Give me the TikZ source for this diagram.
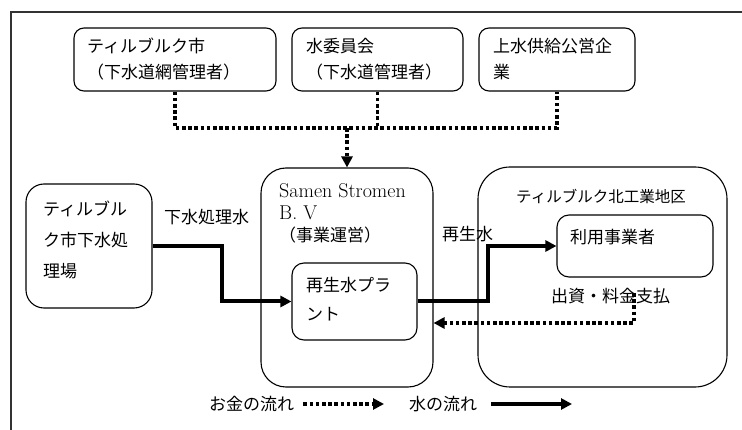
\documentclass[tikz,border=0pt]{standalone}
\usepackage{fontspec}
\newfontfamily\jp{Noto Sans CJK JP}
\usetikzlibrary{arrows.meta}

\begin{document}
\begin{tikzpicture}[x=1pt,y=-1pt,
	box/.style={draw,rounded corners=#1,line width=1.1pt,inner sep=0pt},
	box/.default=10pt,
	txt/.style={inner sep=0pt,anchor=west,align=left,font=\jp\fontsize{17}{26}\selectfont},
	money/.style={line width=3.2pt,dash pattern=on 3.6pt off 2.6pt},
	water/.style={line width=4pt,-{Triangle[length=11pt,width=11pt]}},
	tip/.style={-{Triangle[length=11pt,width=11pt]}}]
	\useasboundingbox (0,0) rectangle (742,430);
	\draw[line width=1.4pt,black!80] (742,12) -- (11,12) -- (11,430);
	\node[box,minimum width=202pt,minimum height=63pt] (tilburg) at (175,59.5) {};
	\node[box,minimum width=171pt,minimum height=63pt] (board) at (377.5,59.5) {};
	\node[box,minimum width=156pt,minimum height=63pt] (supply) at (557,59.5) {};
	\node[box=18pt,minimum width=126pt,minimum height=124pt] (sewage) at (89,246) {};
	\node[box=25pt,minimum width=172pt,minimum height=219pt] (samen) at (347,277.5) {};
	\node[box=12pt,minimum width=125pt,minimum height=77pt] (plant) at (354.5,301.5) {};
	\node[box=32pt,minimum width=249pt,minimum height=220pt] (north) at (602.5,277) {};
	\node[box=12pt,minimum width=156pt,minimum height=62pt] (users) at (635,246) {};
	\node[txt] (tilburgtxt) at (87,59) {ティルブルク市\\（下水道網管理者）};
	\node[txt] (boardtxt) at (306,59) {水委員会\\（下水道管理者）};
	\node[txt] (supplytxt) at (493,59) {上水供給公営企\\業};
	\node[txt,font=\jp\fontsize{17}{31}\selectfont] (sewagetxt) at (43,240) {ティルブル\\ク市下水処\\理場};
	\node[txt,font=\fontsize{20}{22}\selectfont] (samentxt) at (279,213) {Samen Stromen\\B. V\\{\jp\fontsize{17}{22}\selectfont （事業運営）}};
	\node[txt,font=\jp\fontsize{17}{29}\selectfont] (planttxt) at (306,299.5) {再生水プラ\\ント};
	\node[txt,font=\jp\fontsize{15.5}{18}\selectfont] (northtxt) at (516,196) {ティルブルク北工業地区};
	\node[txt] (userstxt) at (570,237) {利用事業者};
	\node[txt] (sewagelbl) at (164,217) {下水処理水};
	\node[txt] (reclbl) at (442,234) {再生水};
	\node[txt] (paylbl) at (551,296) {出資・料金支払};
	\coordinate (hub) at (347,128);
	\draw[money] (tilburg.south) |- (supply.south |- hub) -- (supply.south);
	\draw[money] (board.south) -- (board.south |- hub);
	\draw[money,tip] (hub) -- (samen.north);
	\draw[water] (sewage.east) -- ++(69,0) |- (plant.west);
	\draw[water] (plant.east) -- ++(70,0) |- (users.west);
	\coordinate (pay) at (634,293);
	\coordinate (payturn) at (634,323);
	\draw[money,tip] (pay) -- (payturn) -- (samen.east |- payturn);
	\node[txt] (moneykey) at (209,404) {お金の流れ};
	\coordinate (moneykeyend) at (384,404);
	\draw[money,tip,shorten <=9pt] (moneykey.east) -- (moneykeyend);
	\node[txt] (waterkey) at (409,404) {水の流れ};
	\coordinate (waterkeyend) at (572,404);
	\draw[water,line width=3.4pt,shorten <=14pt] (waterkey.east) -- (waterkeyend);
\end{tikzpicture}
\end{document}
